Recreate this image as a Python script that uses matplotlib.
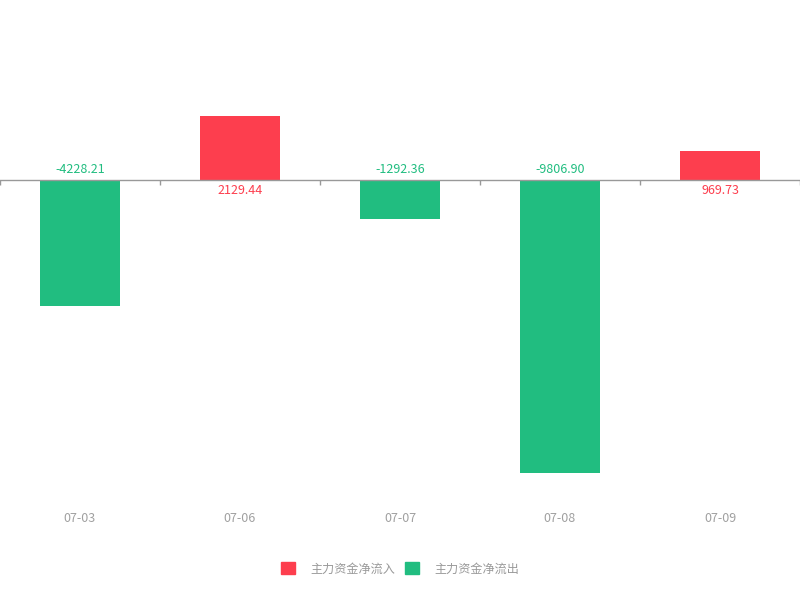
import numpy as np
import matplotlib.pyplot as plt
from matplotlib.patches import Patch

plt.rcParams['font.family'] = ['Noto Sans CJK SC', 'DejaVu Sans']

dates = ['07-03', '07-06', '07-07', '07-08', '07-09']
values = [-4228.21, 2129.44, -1292.36, -9806.90, 969.73]
labels = ['-4228.21', '2129.44', '-1292.36', '-9806.90', '969.73']
legend_names = ['主力资金净流入', '主力资金净流出']

red = '#fd3e4e'
green = '#21bd80'
gray = '#999999'

fig = plt.figure(figsize=(8, 6), dpi=100)
ax = fig.add_axes([0, 100 / 600, 1, 480 / 600])

x = np.arange(len(dates))
colors = [red if v > 0 else green for v in values]
ax.bar(x, values, width=0.5, color=colors)

ax.set_xlim(-0.5, len(dates) - 0.5)
ax.set_ylim(-10720, 5360)

# zero line with category boundary ticks
ax.axhline(0, color=gray, lw=1)
bounds = np.arange(len(dates) + 1) - 0.5
ax.vlines(bounds, -170, 0, color=gray, lw=1)

for xi, v, lab, c in zip(x, values, labels, colors):
    off = 7.5 if v < 0 else -7.5
    ax.annotate(lab, (xi, 0), xytext=(0, off), textcoords='offset points',
                ha='center', va='center', fontsize=9, color=c)

ax.set_xticks(x)
ax.set_xticklabels(dates, fontsize=9, color='#a0a0a0')
ax.tick_params(axis='x', length=0, pad=8.5)
ax.set_yticks([])
for s in ax.spines.values():
    s.set_visible(False)

handles = [Patch(color=red), Patch(color=green)]
fig.legend(handles, legend_names, loc='center', bbox_to_anchor=(0.5, 1 - 569 / 600),
           ncol=2, frameon=False, fontsize=8.7, labelcolor='#999999',
           handlelength=1.15, handleheight=1.15, handletextpad=1.3, columnspacing=0.8)

fig.savefig('out.png', dpi=100)
